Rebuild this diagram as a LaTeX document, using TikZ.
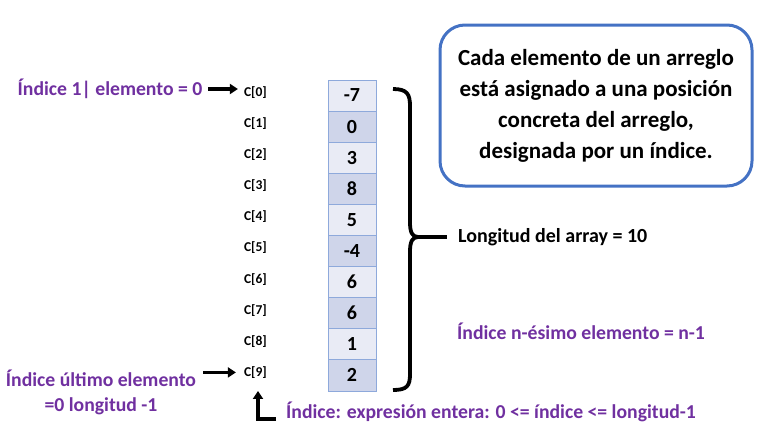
\documentclass[tikz,border=0pt]{standalone}
\usepackage{fontspec}
\setmainfont{Carlito}
\usetikzlibrary{positioning, arrows.meta, calc}
\definecolor{idxpurple}{HTML}{7030A0}
\definecolor{boxblue}{HTML}{4472C4}
\definecolor{cellborder}{HTML}{8EA9DB}
\definecolor{celllight}{HTML}{E9EBF5}
\definecolor{celldark}{HTML}{CFD5EA}
\tikzset{
    cell/.style={draw=cellborder, fill=celllight, line width=0.9pt, outer sep=0pt,
      minimum width=48pt, minimum height=31.1pt, inner sep=0pt,
      font=\fontsize{20}{22}\selectfont\bfseries},
    dark/.style={fill=celldark},
    idx/.style={inner sep=0pt, font=\fontsize{13.5}{15}\selectfont\bfseries, yshift=3pt},
    note/.style={inner sep=0pt, text=idxpurple, font=\fontsize{19.7}{25}\selectfont\bfseries},
    fatarrow/.style={line width=3.5pt, -{Triangle[length=8pt, width=10pt]}},
}
\begin{document}
\begin{tikzpicture}[x=1pt, y=1pt]
    \useasboundingbox (0,0) rectangle (770,-429);

    % the array
    \node[cell] (c0) at (352,-95.5) {-7};
    \node[cell, dark, below=0pt of c0] (c1) {0};
    \node[cell, below=0pt of c1] (c2) {3};
    \node[cell, dark, below=0pt of c2] (c3) {8};
    \node[cell, below=0pt of c3] (c4) {5};
    \node[cell, dark, below=0pt of c4] (c5) {-4};
    \node[cell, below=0pt of c5] (c6) {6};
    \node[cell, dark, below=0pt of c6] (c7) {6};
    \node[cell, below=0pt of c7] (c8) {1};
    \node[cell, dark, below=0pt of c8] (c9) {2};

    % indices
    \node[idx, left=61pt of c0] (i0) {C[0]};
    \node[idx, left=61pt of c1] (i1) {C[1]};
    \node[idx, left=61pt of c2] (i2) {C[2]};
    \node[idx, left=61pt of c3] (i3) {C[3]};
    \node[idx, left=61pt of c4] (i4) {C[4]};
    \node[idx, left=61pt of c5] (i5) {C[5]};
    \node[idx, left=61pt of c6] (i6) {C[6]};
    \node[idx, left=61pt of c7] (i7) {C[7]};
    \node[idx, left=61pt of c8] (i8) {C[8]};
    \node[idx, left=61pt of c9] (i9) {C[9]};

    \node[note] (first) at (110,-89) {Índice 1| elemento = 0};
    \draw[fatarrow, shorten <=6pt, shorten >=6pt] (first.east) -- (first.east -| i0.west);

    \node[note, align=center] (last) at (101,-392) {Índice último elemento\\=0 longitud -1};
    \draw[fatarrow, shorten <=7pt, shorten >=8pt] (i9.west -| last.east) -- (i9.west);

    \node[note, anchor=west] (range) at (286,-412) {Índice: expresión entera: 0 <= índice <= longitud-1};
    \coordinate (bend) at ($(range.west)+(-28pt,-7pt)$);
    \draw[fatarrow] ($(range.west)+(-10pt,-7pt)$) -- (bend) -- (bend |- c9.south);

    % brace
    \coordinate (tip) at (418,-237);
    \draw[line width=3.8pt] (393,-89) .. controls (407,-89) and (410,-94) .. (410,-106)
      -- (410,-222) .. controls (410,-232) and (412,-237) .. (tip)
      .. controls (412,-237) and (410,-242) .. (410,-252)
      -- (410,-374) .. controls (410,-386) and (407,-390) .. (393,-390);
    \node[note, text=black, anchor=west, right=40pt of tip, font=\fontsize{20}{24}\selectfont\bfseries] (len) {Longitud del array = 10};
    \draw[line width=3.8pt, shorten >=11pt] (tip) -- (len.west);

    \node[note, anchor=west] (nth) at (457,-331) {Índice n-ésimo elemento = n-1};

    \node[draw=boxblue, line width=3pt, rounded corners=25pt, minimum width=312pt,
      minimum height=161pt, align=center, font=\fontsize{23}{31}\selectfont\bfseries]
      (info) at (596,-105.5) {Cada elemento de un arreglo\\está asignado a una posición\\concreta del arreglo,\\designada por un índice.};
\end{tikzpicture}
\end{document}
